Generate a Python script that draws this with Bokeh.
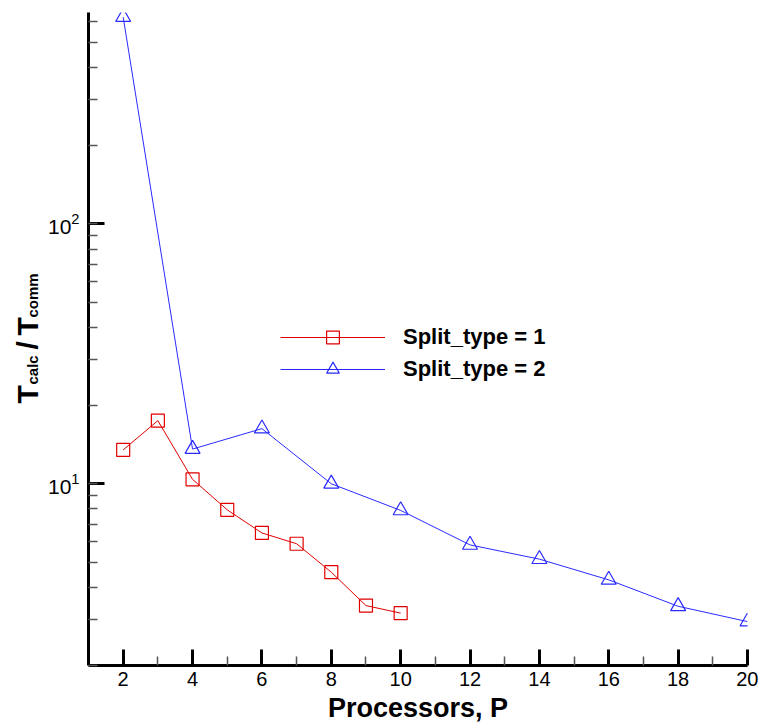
from bokeh.plotting import figure
from bokeh.layouts import row
from bokeh.models import Range1d, FixedTicker, Label, Legend, LegendItem
from bokeh.embed import file_html
from bokeh.resources import INLINE

# ---- data ----
procs_1 = [2, 3, 4, 5, 6, 7, 8, 9, 10]
ratio_1 = [13.5, 17.5, 10.4, 7.94, 6.47, 5.88, 4.57, 3.40, 3.18]
procs_2 = [2, 4, 6, 8, 10, 12, 14, 16, 18, 20]
ratio_2 = [624.0, 13.6, 16.3, 10.0, 7.9, 5.82, 5.13, 4.27, 3.38, 2.95]
series_labels = ["Split_type = 1", "Split_type = 2"]
x_major_ticks = [2, 4, 6, 8, 10, 12, 14, 16, 18, 20]
x_minor_ticks = [3, 5, 7, 9, 11, 13, 15, 17, 19]
x_title = "Processors, P"
y_title_parts = ["T", "calc", "/", "T", "comm"]

FONT = "Liberation Sans"
RED = "#e00000"
BLUE = "#2a2aff"
H = 725
TW = 44  # width of the y-title panel

p = figure(width=758 - TW, height=H, y_axis_type="log",
           x_range=Range1d(1, 20), y_range=Range1d(2, 650),
           output_backend="svg", toolbar_location=None,
           min_border_left=88 - TW, min_border_right=11,
           min_border_top=12, min_border_bottom=59)
p.outline_line_color = None
p.grid.visible = False
p.background_fill_color = "white"

# x axis
xa = p.xaxis[0]
xa.ticker = FixedTicker(ticks=x_major_ticks, minor_ticks=x_minor_ticks)
xa.axis_label = x_title
xa.axis_label_text_font = FONT
xa.axis_label_text_font_style = "bold"
xa.axis_label_text_font_size = "27px"
xa.axis_label_text_color = "black"
xa.axis_label_standoff = 4
xa.major_label_text_font = FONT
xa.major_label_text_font_size = "20px"
xa.major_label_standoff = 6

ya = p.yaxis[0]
ya.major_label_text_font = FONT
ya.major_label_text_font_size = "21px"
ya.major_label_standoff = 9

for ax in (xa, ya):
    ax.axis_line_width = 3
    ax.axis_line_color = "black"
    ax.major_tick_in = 16
    ax.major_tick_out = 0
    ax.major_tick_line_width = 3
    ax.major_tick_line_color = "black"
    ax.minor_tick_in = 9
    ax.minor_tick_out = 0
    ax.minor_tick_line_width = 1.5
    ax.minor_tick_line_color = "#555555"
    ax.major_label_text_color = "black"

# data
l1 = p.line(procs_1, ratio_1, line_color=RED, line_width=1)
s1 = p.scatter(procs_1, ratio_1, marker="square", size=13, line_color=RED,
               fill_color=None, line_width=1.2)
l2 = p.line(procs_2, ratio_2, line_color=BLUE, line_width=1)
s2 = p.scatter(procs_2, ratio_2, marker="triangle", size=15, line_color=BLUE,
               fill_color=None, line_width=1.2)

legend = Legend(items=[LegendItem(label=series_labels[0], renderers=[l1, s1]),
                       LegendItem(label=series_labels[1], renderers=[l2, s2])],
                location=(192, 280), orientation="vertical",
                glyph_width=105, glyph_height=32, spacing=-4,
                label_standoff=18, label_text_font=FONT,
                label_text_font_style="bold", label_text_font_size="22px",
                label_text_baseline="middle", label_text_color="black",
                padding=0, margin=0, border_line_color=None,
                background_fill_alpha=0)
p.add_layout(legend, "center")

# y-axis title panel (a bare figure whose data units equal page pixels)
t = figure(width=TW, height=H, x_range=Range1d(0, TW), y_range=Range1d(0, H),
           output_backend="svg", toolbar_location=None,
           x_axis_type=None, y_axis_type=None,
           min_border=0, min_border_left=0, min_border_right=0,
           min_border_top=0, min_border_bottom=0)
t.outline_line_color = None
t.grid.visible = False
aligned = True
for fig in (t, p):
    try:
        fig.frame_align = False
        aligned = False
    except Exception:
        pass
if aligned:
    t.y_range = Range1d(H - 666, H - 12)

def ylab(text, x, y, size):
    t.add_layout(Label(x=x, y=y,
                       text=text, angle=1.5707963, text_font=FONT,
                       text_font_style="bold", text_font_size=size,
                       text_align="left", text_baseline="alphabetic",
                       text_color="black"))

BIG, SMALL = "30px", "15px"
XB, XS = 27.0, 32.0
ylab(y_title_parts[0], XB, H - 403, BIG)
ylab(y_title_parts[1], XS, H - 384, SMALL)
ylab(y_title_parts[2], XB, H - 349, BIG)
ylab(y_title_parts[3], XB, H - 335, BIG)
ylab(y_title_parts[4], XS, H - 317, SMALL)

layout = row(t, p, spacing=0)
open("out.html", "w").write(file_html(layout, INLINE))
